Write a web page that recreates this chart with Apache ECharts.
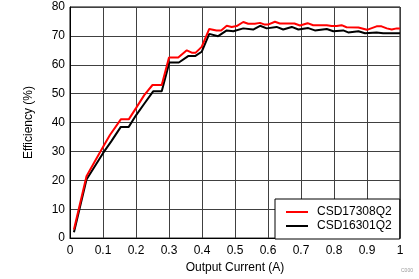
<!DOCTYPE html>
<html><head><meta charset="utf-8">
<script src="https://cdn.jsdelivr.net/npm/echarts@6/dist/echarts.min.js"></script>
<style>html,body{margin:0;padding:0;background:#fff}#c{width:419px;height:279px}</style>
</head><body><div id="c"></div>
<script>
const seriesNames = ['CSD17308Q2', 'CSD16301Q2'];
const redX = [0.012,0.05,0.075,0.1,0.121,0.154,0.178,0.2,0.225,0.25,0.278,0.3,0.328,0.354,0.369,0.381,0.399,0.422,0.444,0.458,0.475,0.49,0.505,0.525,0.54,0.56,0.576,0.59,0.6,0.621,0.636,0.68,0.697,0.72,0.737,0.778,0.793,0.808,0.823,0.838,0.874,0.9,0.929,0.944,0.96,0.975,0.99,1.0];
const redY = [3,21.4,26.5,31.5,35.7,41.1,41.1,45,49.5,53,53,62.5,62.5,65,64.2,64.2,66.2,72.4,71.9,71.9,73.5,73.1,73.4,74.8,74.2,74.2,74.5,73.9,73.9,74.9,74.3,74.3,73.6,74.4,73.7,73.7,73.4,73.4,73.7,73,72.9,72.1,73.3,73.3,72.6,72.2,72.6,72.6];
const blackX = [0.012,0.05,0.1,0.125,0.154,0.178,0.2,0.225,0.252,0.278,0.301,0.33,0.358,0.379,0.399,0.422,0.449,0.475,0.495,0.525,0.555,0.576,0.596,0.626,0.646,0.672,0.692,0.722,0.742,0.778,0.798,0.828,0.843,0.874,0.894,0.929,0.949,1.0];
const blackY = [2,20.3,29.4,33.5,38.5,38.5,42.5,46.5,50.8,50.8,60.8,60.8,63,63,64.5,70.7,69.9,71.9,71.6,72.6,72.2,73.5,72.6,73.1,72.2,73.1,72.2,72.7,71.9,72.4,71.6,71.9,71.2,71.6,70.9,71.2,70.9,70.9];
const xTicks = ['0','0.1','0.2','0.3','0.4','0.5','0.6','0.7','0.8','0.9','1'];
const yTicks = ['0','10','20','30','40','50','60','70','80'];

const zip = (xs, ys) => xs.map((x, i) => [x, ys[i]]);
const font = 'Liberation Sans, Arial, sans-serif';
const chart = echarts.init(document.getElementById('c'), null, {renderer: 'canvas'});
chart.setOption({
  animation: false,
  backgroundColor: '#fff',
  grid: {left: 70, top: 7, right: 19, bottom: 38, show: true, borderColor: '#000', borderWidth: 1},
  xAxis: {
    type: 'value', min: 0, max: 1, interval: 0.1,
    name: 'Output Current (A)', nameLocation: 'middle', nameGap: 21,
    nameTextStyle: {fontFamily: font, fontSize: 12, color: '#000'},
    axisLine: {show: true, lineStyle: {color: '#000'}},
    axisTick: {show: false},
    axisLabel: {fontFamily: font, fontSize: 12, color: '#000', margin: 7,
      formatter: v => xTicks[Math.round(v * 10)]},
    splitLine: {show: true, lineStyle: {color: '#404040', width: 1}}
  },
  yAxis: {
    type: 'value', min: 0, max: 80, interval: 10,
    name: 'Efficiency (%)', nameLocation: 'middle', nameGap: 35, nameRotate: 90,
    nameTextStyle: {fontFamily: font, fontSize: 12, color: '#000'},
    axisLine: {show: true, lineStyle: {color: '#000'}},
    axisTick: {show: false},
    axisLabel: {fontFamily: font, fontSize: 12, color: '#000', margin: 5,
      formatter: v => yTicks[Math.round(v / 10)]},
    splitLine: {show: true, lineStyle: {color: '#404040', width: 1}}
  },
  legend: {
    orient: 'vertical', left: 275, top: 199, width: 125,
    icon: 'rect', itemWidth: 22, itemHeight: 2, itemGap: 0,
    padding: [6, 8, 6, 11],
    backgroundColor: '#fff', borderColor: '#000', borderWidth: 1,
    textStyle: {fontFamily: font, fontSize: 12, color: '#000', padding: [0, 0, 0, 4], lineHeight: 14},
    data: seriesNames
  },
  graphic: [{type: 'text', left: 401, top: 268, style: {text: 'C000', fontSize: 5, fill: '#999', fontFamily: font}}],
  series: [
    {name: seriesNames[0], type: 'line', symbol: 'none', data: zip(redX, redY), z: 3,
      lineStyle: {color: '#ff0000', width: 2}, itemStyle: {color: '#ff0000'}},
    {name: seriesNames[1], type: 'line', symbol: 'none', data: zip(blackX, blackY), z: 2,
      lineStyle: {color: '#000', width: 2}, itemStyle: {color: '#000'}}
  ]
});
</script></body></html>
